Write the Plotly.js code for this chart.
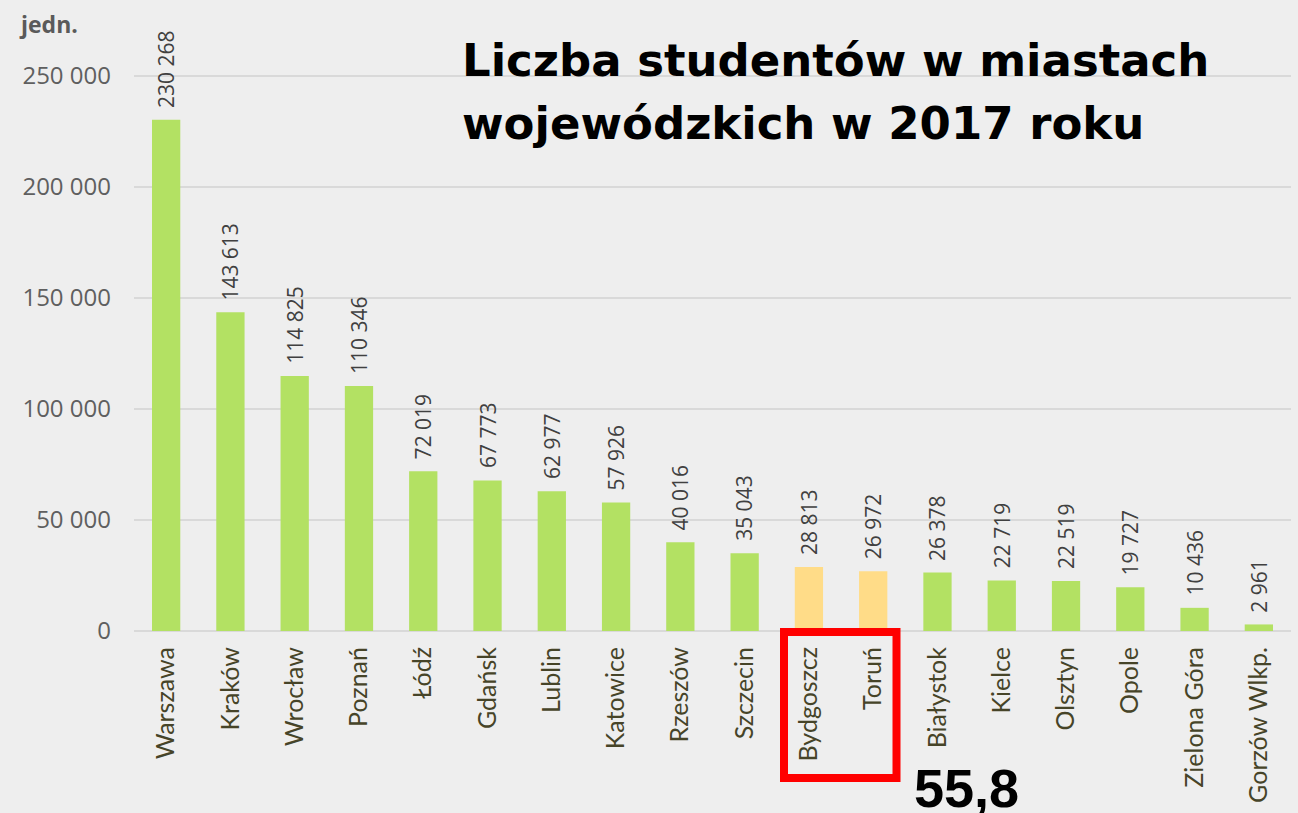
<!DOCTYPE html>
<html>
<head>
<meta charset="utf-8">
<script src="https://cdn.plot.ly/plotly-3.0.1.min.js"></script>
<style>html,body{margin:0;padding:0;background:#eeeeee;}#chart{width:1298px;height:813px;}</style>
</head>
<body>
<div id="chart"></div>
<script>
const cities = ["Warszawa","Kraków","Wrocław","Poznań","Łódź","Gdańsk","Lublin","Katowice","Rzeszów","Szczecin","Bydgoszcz","Toruń","Białystok","Kielce","Olsztyn","Opole","Zielona Góra","Gorzów Wlkp."];
const students = [230268,143613,114825,110346,72019,67773,62977,57926,40016,35043,28813,26972,26378,22719,22519,19727,10436,2961];
const highlighted = ["Bydgoszcz","Toruń"];
const yTicks = [0,50000,100000,150000,200000,250000];
const titleLines = ["Liczba studentów w miastach","wojewódzkich w 2017 roku"];
const unitLabel = "jedn.";
const boxNote = "55,8";

const GREEN = "#b3e163", YELLOW = "#ffdc88";
const colors = cities.map(c => highlighted.includes(c) ? YELLOW : GREEN);

// plot area geometry (pixels)
const L = 134, T = 5, R = 1291, B = 631;
const PW = R - L, PH = B - T;
const px = x => (x - L) / PW;
const py = y => (B - y) / PH;

const fmt = v => String(v).replace(/\B(?=(\d{3})+(?!\d))/g, " ");

const trace = {
  type: "bar",
  x: cities,
  y: students,
  marker: {color: colors},
  hoverinfo: "skip"
};

const valueLabels = cities.map((c, i) => ({
  text: fmt(students[i]),
  x: c, y: students[i],
  xref: "x", yref: "y",
  textangle: -90,
  xanchor: "center", yanchor: "bottom",
  yshift: 10,
  showarrow: false,
  font: {family: "Open Sans", size: 21, color: "#404040"}
}));

const layout = {
  width: 1298, height: 813,
  margin: {l: L, r: 1298 - R, t: T, b: 813 - B},
  paper_bgcolor: "#eeeeee",
  plot_bgcolor: "#eeeeee",
  separators: ", ",
  bargap: 0.56,
  showlegend: false,
  xaxis: {
    type: "category",
    tickangle: -90,
    tickfont: {family: "Lato", size: 25, color: "#464428"},
    showgrid: false,
    showline: false,
    ticks: "",
    ticklabelstandoff: 10,
    fixedrange: true
  },
  yaxis: {
    range: [0, 282000],
    tickvals: yTicks,
    tickformat: ",",
    tickfont: {family: "Open Sans", size: 24, color: "#5f5f5f"},
    gridcolor: "#d9d9d9",
    gridwidth: 2,
    zeroline: true,
    zerolinecolor: "#d9d9d9",
    zerolinewidth: 2,
    showline: false,
    ticks: "",
    ticklabelstandoff: 22,
    fixedrange: true
  },
  annotations: valueLabels.concat([
    {text: "<b>" + titleLines[0] + "</b>", xref: "paper", yref: "paper", x: px(460), y: py(32), xanchor: "left", yanchor: "top", showarrow: false, font: {family: "DejaVu Sans", size: 45, color: "#000000"}},
    {text: "<b>" + titleLines[1] + "</b>", xref: "paper", yref: "paper", x: px(460), y: py(95), xanchor: "left", yanchor: "top", showarrow: false, font: {family: "DejaVu Sans", size: 45, color: "#000000"}},
    {text: "<b>" + unitLabel + "</b>", xref: "paper", yref: "paper", x: px(17), y: py(24), xanchor: "left", yanchor: "middle", showarrow: false, font: {family: "Open Sans", size: 23, color: "#5a5a5a"}},
    {text: "<b>" + boxNote + "</b>", xref: "paper", yref: "paper", x: px(912), y: py(756), xanchor: "left", yanchor: "top", showarrow: false, font: {family: "Liberation Sans", size: 54, color: "#000000"}}
  ]),
  shapes: [
    {type: "rect", xref: "paper", yref: "paper", x0: px(784), x1: px(896.5), y0: py(632), y1: py(778), line: {color: "#ff0000", width: 8}, fillcolor: "rgba(0,0,0,0)"}
  ]
};

Plotly.newPlot("chart", [trace], layout, {displayModeBar: false, staticPlot: true});
</script>
</body>
</html>
